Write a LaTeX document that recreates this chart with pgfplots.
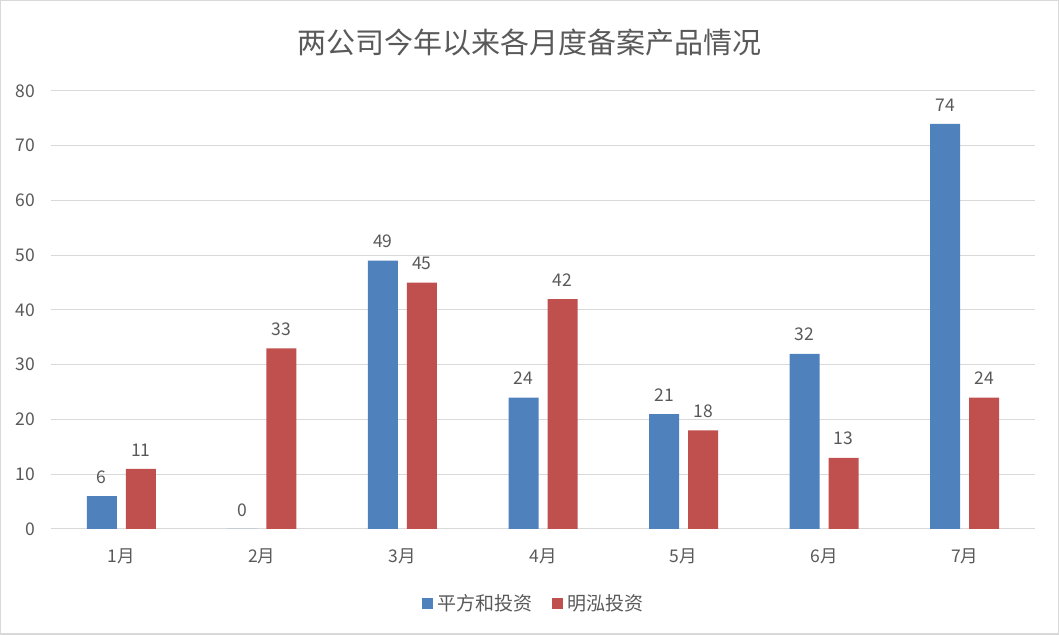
\documentclass[border=0pt]{standalone}
\usepackage{pgfplots}
\pgfplotsset{compat=1.18}
\usepackage{fontspec}
\setmainfont{Noto Sans CJK SC}
\definecolor{cblue}{HTML}{4F81BD}
\definecolor{cred}{HTML}{C0504D}
\definecolor{tgray}{HTML}{595959}
\definecolor{ggray}{HTML}{D9D9D9}
\newcommand{\smfont}{\fontsize{17.5bp}{21bp}\selectfont}
\newcommand{\legfont}{\fontsize{19bp}{23bp}\selectfont}
\begin{document}
\begin{tikzpicture}[x=1bp,y=1bp]
\path[use as bounding box] (0,0) rectangle (1059,635);
\draw[ggray, line width=1.5bp] (0.75,0.75) rectangle (1058.25,634.25);
\node[text=tgray, font=\fontsize{29bp}{34bp}\selectfont, inner sep=0pt] at (529.5,592.5) {两公司今年以来各月度备案产品情况};
\begin{axis}[
  at={(51bp,106bp)}, anchor=south west,
  scale only axis, width=984bp, height=438bp,
  xmin=-0.5, xmax=6.5, ymin=0, ymax=80,
  ybar, bar width=30bp,
  xtick={0,1,2,3,4,5,6},
  xticklabels={1月,2月,3月,4月,5月,6月,7月},
  ytick={0,10,20,30,40,50,60,70,80},
  ymajorgrids, grid style={ggray, line width=1bp},
  axis line style={draw=none},
  major tick length=0pt,
  /pgf/number format/assume math mode=true,
  yticklabel style={text=tgray, font=\smfont, inner sep=0pt, anchor=east, xshift=-16bp},
  xticklabel style={text=tgray, font=\smfont, inner sep=0pt, anchor=base, yshift=-33.5bp},
  nodes near coords,
  nodes near coords style={text=tgray, font=\smfont, inner sep=0pt, anchor=south, yshift=12.5bp},
  legend style={at={(0.4898,-0.170)}, anchor=center, draw=none, fill=none, font=\legfont, text=tgray,
    legend columns=2, nodes={inner sep=0pt},
    /tikz/every even column/.append style={column sep=20bp},
    /tikz/every odd column/.append style={column sep=4bp}},
  legend image code/.code={\fill[#1] (0bp,-5.5bp) rectangle (11bp,5.5bp);},
]
\addplot[fill=cblue, draw=none, bar shift=-19.5bp] coordinates {(0,6) (1,0) (2,49) (3,24) (4,21) (5,32) (6,74)};
\addplot[fill=cred, draw=none, bar shift=19.5bp] coordinates {(0,11) (1,33) (2,45) (3,42) (4,18) (5,13) (6,24)};
\legend{平方和投资,明泓投资}
\end{axis}
\end{tikzpicture}
\end{document}
